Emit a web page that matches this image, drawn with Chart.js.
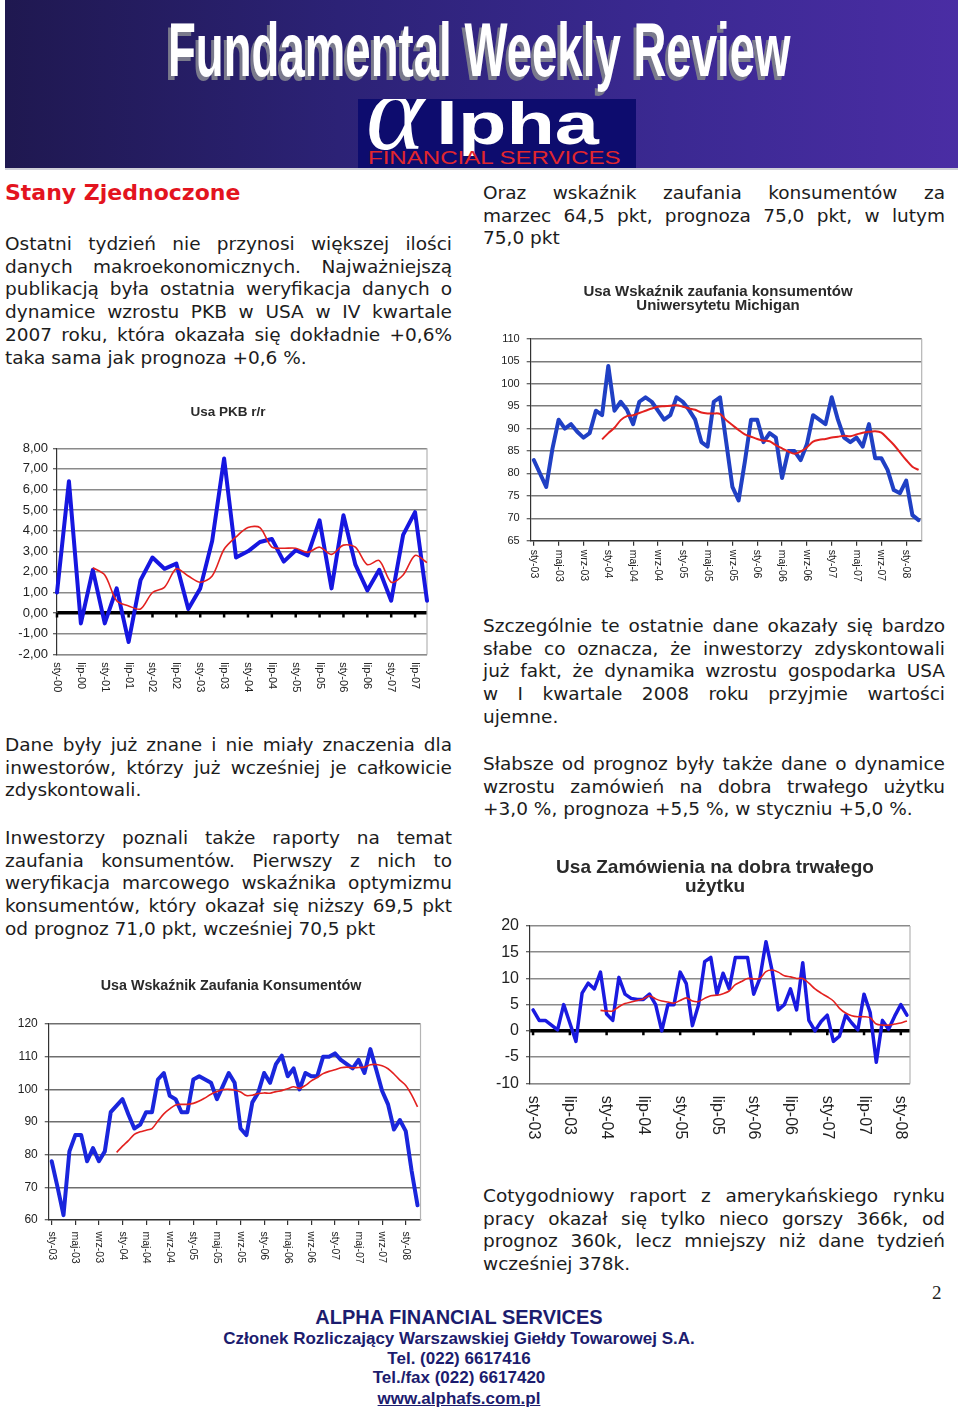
<!DOCTYPE html>
<html><head><meta charset="utf-8">
<script src="https://cdn.jsdelivr.net/npm/chart.js@4.4.1/dist/chart.umd.min.js"></script>
<style>
html,body{margin:0;padding:0;background:#fff;}
#page{position:relative;width:960px;height:1413px;overflow:hidden;background:#fff;}
.banner{position:absolute;left:5px;top:0;width:953px;height:168px;background:linear-gradient(90deg,#1f1850 0%,#2c2276 35%,#3b2992 70%,#4a2da4 100%);border-bottom:2px solid #cfcfd8;}
.ftitle{position:absolute;left:168px;top:12px;font:bold 76px/1 'Liberation Sans',Arial,sans-serif;color:#fff;white-space:nowrap;transform:scaleX(0.6);transform-origin:0 0;text-shadow:-5px 4px 0 #7a7a8c;}
.logo{position:absolute;left:358px;top:99px;width:278px;height:69px;background:#0d0c6e;overflow:hidden;}
.alpha{position:absolute;left:8px;top:-44px;font:italic 112px/1 'Liberation Serif',serif;color:#fff;}
.lpha{position:absolute;left:78px;top:-5px;font:bold 60px/1 'Liberation Sans',Arial,sans-serif;color:#fff;transform:scaleX(1.32);transform-origin:0 0;white-space:nowrap;}
.fs{position:absolute;left:10px;top:50px;font:18.5px/1 'Liberation Sans',Arial,sans-serif;color:#e2262d;transform:scaleX(1.3);transform-origin:0 0;white-space:nowrap;}
.head{position:absolute;left:5px;top:181px;font:bold 22px/24px 'DejaVu Sans',Verdana,sans-serif;color:#e3141e;}
.col{position:absolute;font-family:'DejaVu Sans',Verdana,sans-serif;font-size:18.5px;line-height:22.9px;color:#1c1c1c;}
.col div{text-align:justify;text-align-last:justify;}
.col div.e{text-align:left;text-align-last:left;}
.L{left:5px;width:447px;}
.R{left:483px;width:462px;}
canvas{position:absolute;}
.foot{position:absolute;left:0;width:918px;text-align:center;font-family:'Liberation Sans',Arial,sans-serif;font-weight:bold;color:#1c1c6e;line-height:20px;}
.pnum{position:absolute;left:932px;top:1281px;font:19px/24px 'Liberation Serif',serif;color:#222;}
</style>
</head><body>
<div id="page">
  <div class="banner"></div>
  <div class="ftitle">Fundamental Weekly Review</div>
  <div class="logo">
    <span class="alpha">α</span><span class="lpha">lpha</span>
    <span class="fs">FINANCIAL SERVICES</span>
  </div>

  <div class="head">Stany Zjednoczone</div>

  <div class="col L" style="top:232.6px">
    <div>Ostatni tydzień nie przynosi większej ilości</div>
    <div>danych makroekonomicznych. Najważniejszą</div>
    <div>publikacją była ostatnia weryfikacja danych o</div>
    <div>dynamice wzrostu PKB w USA w IV kwartale</div>
    <div>2007 roku, która okazała się dokładnie +0,6%</div>
    <div class="e">taka sama jak prognoza +0,6 %.</div>
  </div>

  <div class="col R" style="top:181.6px">
    <div>Oraz wskaźnik zaufania konsumentów za</div>
    <div>marzec 64,5 pkt, prognoza 75,0 pkt, w lutym</div>
    <div class="e">75,0 pkt</div>
  </div>

  <div class="col L" style="top:733.6px">
    <div>Dane były już znane i nie miały znaczenia dla</div>
    <div>inwestorów, którzy już wcześniej je całkowicie</div>
    <div class="e">zdyskontowali.</div>
  </div>

  <div class="col L" style="top:826.6px">
    <div>Inwestorzy poznali także raporty na temat</div>
    <div>zaufania konsumentów. Pierwszy z nich to</div>
    <div>weryfikacja marcowego wskaźnika optymizmu</div>
    <div>konsumentów, który okazał się niższy 69,5 pkt</div>
    <div class="e">od prognoz 71,0 pkt, wcześniej 70,5 pkt</div>
  </div>

  <div class="col R" style="top:614.6px">
    <div>Szczególnie te ostatnie dane okazały się bardzo</div>
    <div>słabe co oznacza, że inwestorzy zdyskontowali</div>
    <div>już fakt, że dynamika wzrostu gospodarka USA</div>
    <div>w I kwartale 2008 roku przyjmie wartości</div>
    <div class="e">ujemne.</div>
  </div>

  <div class="col R" style="top:752.6px">
    <div>Słabsze od prognoz były także dane o dynamice</div>
    <div>wzrostu zamówień na dobra trwałego użytku</div>
    <div class="e">+3,0 %, prognoza +5,5 %, w styczniu +5,0 %.</div>
  </div>

  <div class="col R" style="top:1184.6px">
    <div>Cotygodniowy raport z amerykańskiego rynku</div>
    <div>pracy okazał się tylko nieco gorszy 366k, od</div>
    <div>prognoz 360k, lecz mniejszy niż dane tydzień</div>
    <div class="e">wcześniej 378k.</div>
  </div>

  <canvas id="c1" width="440" height="310" style="left:0;top:395px"></canvas>
  <canvas id="c2" width="450" height="310" style="left:480px;top:275px"></canvas>
  <canvas id="c3" width="440" height="310" style="left:0;top:970px"></canvas>
  <canvas id="c4" width="450" height="300" style="left:480px;top:850px"></canvas>

  <div class="pnum">2</div>
  <div class="foot" style="top:1307px;font-size:20px">ALPHA FINANCIAL SERVICES</div>
  <div class="foot" style="top:1329px;font-size:17px">Członek Rozliczający Warszawskiej Giełdy Towarowej S.A.</div>
  <div class="foot" style="top:1349px;font-size:17px">Tel. (022) 6617416</div>
  <div class="foot" style="top:1368px;font-size:17px">Tel./fax (022) 6617420</div>
  <div class="foot" style="top:1389px;font-size:17px"><span style="text-decoration:underline">www.alphafs.com.pl</span></div>
</div>

<script>
// ---------- DATA ----------
const quarterLabels = ["sty-00","kwi-00","lip-00","paź-00","sty-01","kwi-01","lip-01","paź-01",
  "sty-02","kwi-02","lip-02","paź-02","sty-03","kwi-03","lip-03","paź-03",
  "sty-04","kwi-04","lip-04","paź-04","sty-05","kwi-05","lip-05","paź-05",
  "sty-06","kwi-06","lip-06","paź-06","sty-07","kwi-07","lip-07","paź-07"];
const gdpValues = [1.0, 6.4, -0.5, 2.1, -0.5, 1.2, -1.4, 1.6, 2.7, 2.15, 2.4, 0.2, 1.2, 3.5, 7.5, 2.7,
  3.0, 3.45, 3.6, 2.5, 3.05, 2.8, 4.5, 1.2, 4.75, 2.35, 1.1, 2.1, 0.6, 3.8, 4.9, 0.6];
const gdpTrend = [null, null, null, 2.2, 1.85, 0.6, 0.35, 0.2, 1.0, 1.25, 2.15, 1.8, 1.5, 1.8, 3.1, 3.7,
  4.15, 4.15, 3.2, 3.15, 3.15, 2.95, 3.2, 2.85, 3.3, 3.2, 2.35, 2.55, 1.5, 1.85, 2.8, 2.45];

const monthLabels = [
  "sty-03","lut-03","mar-03","kwi-03","maj-03","cze-03","lip-03","sie-03","wrz-03","paź-03","lis-03","gru-03",
  "sty-04","lut-04","mar-04","kwi-04","maj-04","cze-04","lip-04","sie-04","wrz-04","paź-04","lis-04","gru-04",
  "sty-05","lut-05","mar-05","kwi-05","maj-05","cze-05","lip-05","sie-05","wrz-05","paź-05","lis-05","gru-05",
  "sty-06","lut-06","mar-06","kwi-06","maj-06","cze-06","lip-06","sie-06","wrz-06","paź-06","lis-06","gru-06",
  "sty-07","lut-07","mar-07","kwi-07","maj-07","cze-07","lip-07","sie-07","wrz-07","paź-07","lis-07","gru-07",
  "sty-08","lut-08","mar-08"];

const michiganValues = [83, 80, 77, 85.5, 92, 90, 91, 89.3, 88, 89, 94, 93,
  104, 94, 96, 94.2, 91, 96, 97, 96, 94, 92, 93, 97,
  96, 94.2, 92, 87, 86, 96, 97, 87, 77, 74, 82.6, 92,
  92, 87, 89, 88, 79, 85, 85, 83, 86.5, 93, 92, 91,
  97, 92, 88, 87, 88, 86, 91, 83.4, 83.4, 80.8, 76.3, 75.6,
  78.4, 70.7, 69.6];
const michiganTrend = [null, null, null, null, null, null, null, null, null, null, null, 87.6,
  89, 90.2, 91.9, 92.8, 93, 93.5, 94, 94.5, 94.9, 95, 95.1, 95.2,
  94.9, 94.5, 94.2, 93.6, 93.4, 93.4, 93.3, 91.9, 90.8, 89.7, 88.7, 88.2,
  87.7, 87.3, 87.2, 86.3, 85.6, 84.9, 84.4, 84.9, 85.8, 87.1, 87.5, 87.7,
  88, 88.2, 88.4, 88.3, 88.7, 89.1, 89.3, 89.4, 89.1, 87.8, 86.4, 84.7,
  83, 81.5, 80.8];

const confidenceValues = [78, 70, 61.5, 81, 86, 86, 78, 82, 78, 81, 93, 95,
  97, 92.3, 88, 89.2, 93, 93, 103, 105, 98, 97, 93, 93,
  103, 104, 103, 102, 97, 101, 105, 102, 88, 86, 96, 99,
  105, 102, 107.7, 110.3, 104, 106.4, 100, 105, 104, 104, 110, 110,
  111, 109, 107.7, 106.4, 109, 105, 112.3, 106, 99.5, 95.4, 87.7, 90.6,
  87.2, 75, 64.5];
const confidenceTrend = [null, null, null, null, null, null, null, null, null, null, null, 80.7,
  82.6, 84.3, 86.2, 87, 87.5, 88, 90.3, 92.5, 94, 95.2, 95.4, 95.4,
  95.7, 96.4, 97.4, 98.5, 99.3, 99.9, 100, 99.8, 99.2, 98.1, 98.2, 98.7,
  98.9, 98.8, 99.3, 99.6, 100.2, 100.8, 100.3, 101.2, 102.6, 103.6, 104.8, 105.5,
  106, 106.6, 106.8, 106.6, 106.7, 106.8, 107.5, 107.6, 107.2, 106.3, 104.7, 102.8,
  101.2, 98.3, 94.6];

const durableLabels = monthLabels.slice(0, 62);
const durableValues = [4, 2, 2, 1.1, 0.2, 5, 1.5, -2, 7.2, 9.1, 8, 11.2,
  3.2, 2, 10.2, 7, 6.2, 6, 6, 7, 5, 0, 5, 5,
  11.2, 9, 1, 5, 13.2, 14, 7, 11, 8, 14, 14, 14,
  7, 10, 17, 11.5, 4, 5, 8, 4, 13, 2, 0, 1.8,
  3, -2, -1, 3, 1.5, 0.2, 7, 3.5, -6, 2, 0.3, 2.8,
  5, 3];
const durableTrend = [null, null, null, null, null, null, null, null, null, null, null, 3.9,
  3.8, 3.8, 4.6, 5.2, 5.5, 5.8, 6.1, 6.7, 6.1, 5.7, 5.5, 5.3,
  5.8, 6.3, 5.7, 5.6, 6.2, 6.7, 6.8, 7.1, 7.6, 8.8, 9.4, 10,
  9.9, 10, 11.3, 11.6, 11.2, 10.5, 10.3, 10, 10, 9.1, 8, 7.2,
  6.5, 5.7, 4.3, 3.4, 2.9, 2.7, 2.7, 2.5, 1.3, 1.1, 1.1, 1.3,
  1.5, 1.9];

// ---------- PLUGINS ----------
const FONT = "'Liberation Sans', Arial, sans-serif";

const xLabelPlugin = {
  id: 'xLabels',
  afterDraw(chart, args, o) {
    if (!o || !o.every) return;
    const {ctx, chartArea} = chart;
    const xs = chart.scales.x;
    const labels = chart.data.labels;
    ctx.save();
    ctx.font = o.font;
    ctx.fillStyle = o.color || '#222';
    ctx.textAlign = 'left';
    ctx.textBaseline = 'middle';
    for (let i = 0; i < labels.length; i += o.every) {
      const x = xs.getPixelForValue(i);
      ctx.save();
      ctx.translate(x, chartArea.bottom + o.gap);
      ctx.rotate(Math.PI / 2);
      ctx.fillText(labels[i], 0, 0);
      ctx.restore();
    }
    ctx.restore();
  }
};

const titlePlugin = {
  id: 'ttl',
  afterDraw(chart, args, o) {
    if (!o || !o.lines) return;
    const {ctx} = chart;
    ctx.save();
    ctx.font = o.font;
    ctx.fillStyle = o.color || '#2a2a2a';
    ctx.textAlign = 'center';
    ctx.textBaseline = 'middle';
    o.lines.forEach((t, i) => ctx.fillText(t, o.x, o.y + i * o.lh));
    ctx.restore();
  }
};

const framePlugin = {
  id: 'frame',
  beforeDatasetsDraw(chart, args, o) {
    const {ctx, chartArea} = chart;
    ctx.save();
    ctx.strokeStyle = (o && o.color) || '#b4b4b4';
    ctx.lineWidth = 1.2;
    ctx.beginPath();
    ctx.moveTo(chartArea.right, chartArea.top);
    ctx.lineTo(chartArea.right, chartArea.bottom);
    ctx.stroke();
    if (o && o.zeroEvery) {
      const xs = chart.scales.x, ys = chart.scales.y;
      const y0 = ys.getPixelForValue(0);
      ctx.strokeStyle = '#000';
      ctx.lineWidth = 2.5;
      ctx.beginPath();
      for (let i = 0; i < chart.data.labels.length; i += o.zeroEvery) {
        const x = xs.getPixelForValue(i);
        ctx.moveTo(x, y0);
        ctx.lineTo(x, y0 + 4.5);
      }
      ctx.stroke();
    }
    ctx.restore();
  }
};

function buildChart(id, c) {
  const gridColor = c.gridColor || '#8c8c8c';
  const canvas = document.getElementById(id);
  return new Chart(canvas, {
    type: 'line',
    data: {
      labels: c.labels,
      datasets: [
        {data: c.main, borderColor: c.blue || '#1a22d8', borderWidth: c.blueWidth || 4,
         pointRadius: 0, tension: 0, borderJoinStyle: 'round', borderCapStyle: 'round', order: 1, fill: false},
        {data: c.trend, borderColor: '#e3211f', borderWidth: c.redWidth || 1.6,
         pointRadius: 0, tension: 0.3, order: 0, fill: false, spanGaps: false}
      ]
    },
    options: {
      responsive: false, animation: false, devicePixelRatio: 1, events: [],
      layout: {padding: {left: 0, right: canvas.width - c.area[1], top: c.area[2], bottom: 0}},
      plugins: {
        legend: {display: false}, tooltip: {enabled: false}, title: {display: false},
        ttl: {lines: c.title, x: c.titleX, y: c.titleY, lh: c.titleLH, font: c.titleFont},
        xLabels: {every: c.every, gap: c.xGap, font: c.xFont, color: '#222'},
        frame: {zeroEvery: c.zeroEvery || 0}
      },
      scales: {
        x: {
          offset: c.offset,
          ticks: {display: false},
          grid: {display: !!c.xTicks, drawOnChartArea: false, drawTicks: true, tickLength: 5,
            color: (ctx) => (ctx.index % c.every === 0 ? '#333' : 'rgba(0,0,0,0)'), lineWidth: 1.2},
          border: {display: true, color: c.xBorder || gridColor, width: 1.2},
          afterFit: (s) => { s.height = canvas.height - c.area[3]; }
        },
        y: {
          min: c.yMin, max: c.yMax,
          ticks: {stepSize: c.step, color: '#222', font: {family: FONT, size: c.yFont}, padding: c.yPad,
            callback: c.fmt},
          grid: {
            color: (ctx) => (c.zeroEvery && ctx.tick && ctx.tick.value === 0 ? '#000' : gridColor),
            lineWidth: (ctx) => (c.zeroEvery && ctx.tick && ctx.tick.value === 0 ? 3.5 : 1.5),
            tickLength: 4, tickColor: '#333', tickWidth: 1},
          border: {display: true, color: '#333', width: 1.2},
          afterFit: (s) => { s.width = c.area[0]; }
        }
      }
    },
    plugins: [framePlugin, xLabelPlugin, titlePlugin]
  });
}

// area: [left, right, top, bottom] of plot, relative to the canvas
// Chart 1: USA PKB r/r
buildChart('c1', {
  labels: quarterLabels, main: gdpValues, trend: gdpTrend,
  yMin: -2, yMax: 8, step: 1, fmt: (v) => v.toFixed(2).replace('.', ','),
  yFont: 13, yPad: 5, area: [57, 427, 53.3, 259.3],
  title: ['Usa PKB r/r'], titleX: 228, titleY: 17, titleLH: 15, titleFont: "bold 13.5px " + FONT,
  every: 2, xGap: 8, xFont: "11px " + FONT, offset: false, zeroEvery: 2,
  gridColor: '#8a8a8a', blue: '#1616e0', blueWidth: 4
});

// Chart 2: Michigan
buildChart('c2', {
  labels: monthLabels, main: michiganValues, trend: michiganTrend,
  yMin: 65, yMax: 110, step: 5, fmt: (v) => String(v),
  yFont: 11, yPad: 7, area: [50.7, 441.7, 64, 265.7],
  title: ['Usa Wskaźnik zaufania konsumentów', 'Uniwersytetu Michigan'], titleX: 238, titleY: 17, titleLH: 14,
  titleFont: "bold 15px " + FONT,
  every: 4, xGap: 9, xFont: "10.5px " + FONT, offset: true, xTicks: true, xBorder: '#333',
  gridColor: '#7a7a7a', blue: '#2040c4', blueWidth: 4, redWidth: 2
});

// Chart 3: Conference Board
buildChart('c3', {
  labels: monthLabels, main: confidenceValues, trend: confidenceTrend,
  yMin: 60, yMax: 120, step: 10, fmt: (v) => String(v),
  yFont: 12, yPad: 7, area: [48.75, 420.5, 54, 250],
  title: ['Usa Wskaźnik Zaufania Konsumentów'], titleX: 231, titleY: 16, titleLH: 16, titleFont: "bold 14.3px " + FONT,
  every: 4, xGap: 11.5, xFont: "10.5px " + FONT, offset: true, xTicks: true, xBorder: '#333',
  gridColor: '#6e6e6e', blue: '#1a26dc', blueWidth: 4
});

// Chart 4: Durable goods
buildChart('c4', {
  labels: durableLabels, main: durableValues, trend: durableTrend,
  yMin: -10, yMax: 20, step: 5, fmt: (v) => String(v),
  yFont: 16, yPad: 7, area: [50, 430, 76, 233.3],
  title: ['Usa Zamówienia na dobra trwałego', 'użytku'], titleX: 235, titleY: 18, titleLH: 19,
  titleFont: "bold 19px " + FONT,
  every: 6, xGap: 12.5, xFont: "16px " + FONT, offset: true, zeroEvery: 6,
  gridColor: '#8a8a8a', blue: '#1a1ae0', blueWidth: 3.5
});
</script>
</body></html>
